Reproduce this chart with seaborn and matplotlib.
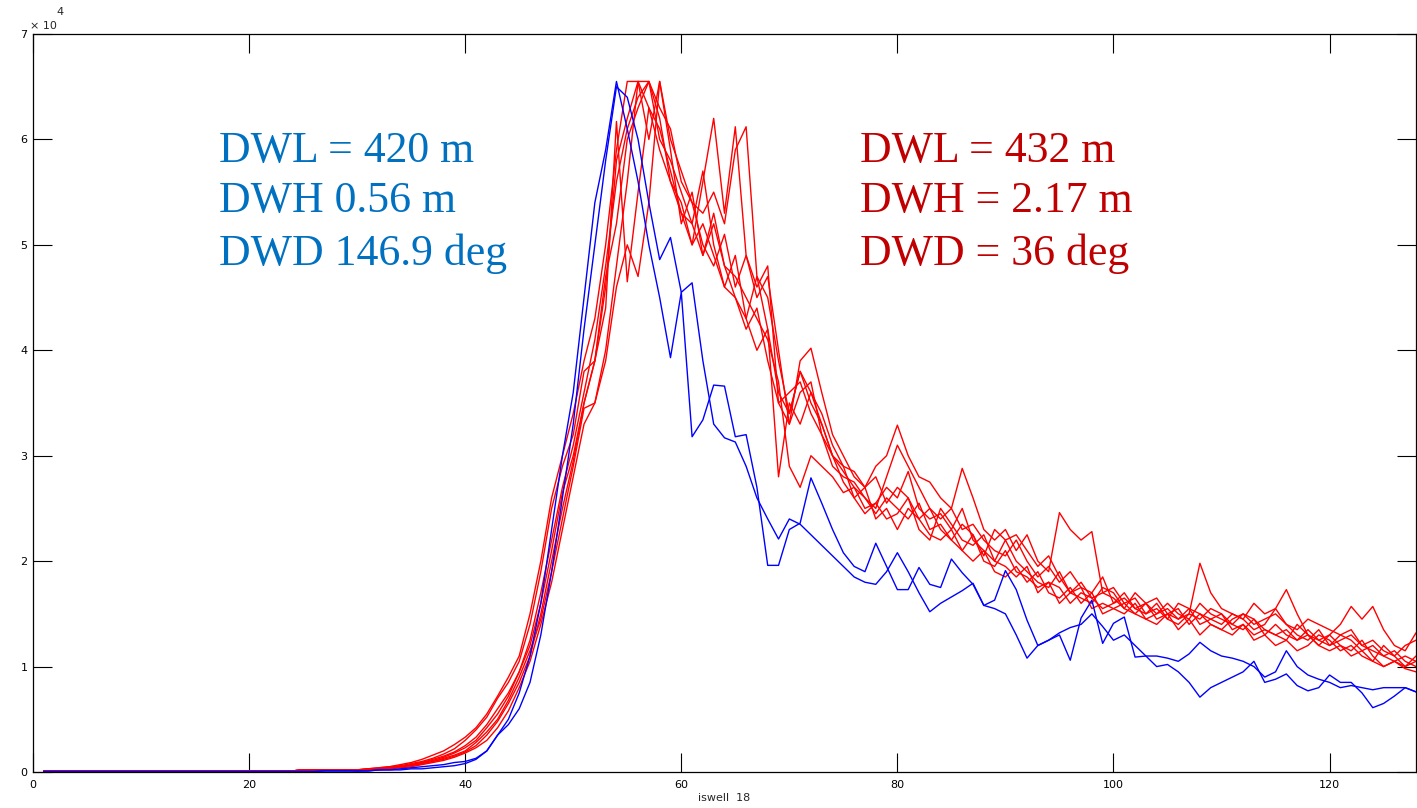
import numpy as np
import pandas as pd
import seaborn as sns
import matplotlib.pyplot as plt

# values are in units of 1e4 (axis shows "x 10^4")
red_low = [0.01, 0.01, 0.01, 0.01, 0.01, 0.01, 0.01, 0.01, 0.01, 0.01,
           0.01, 0.01, 0.01, 0.01, 0.01, 0.01, 0.01, 0.01, 0.01, 0.01,
           0.01, 0.01, 0.01, 0.01, 0.02, 0.02, 0.02, 0.02, 0.02]
blue_low = [0.005, 0.005, 0.005, 0.005, 0.005, 0.005, 0.005, 0.005, 0.005, 0.005,
            0.005, 0.005, 0.005, 0.005, 0.005, 0.005, 0.005, 0.005, 0.005, 0.005,
            0.005, 0.005, 0.005, 0.005, 0.005, 0.005, 0.01, 0.01, 0.01]

blue_a = [0.01, 0.01, 0.02, 0.02, 0.03, 0.04, 0.05, 0.06, 0.07, 0.09,
          0.10, 0.13, 0.20, 0.35, 0.50, 0.75, 1.10, 1.60, 2.30, 3.00,
          3.60, 4.50, 5.40, 5.90, 6.55, 6.10, 5.60, 5.00, 4.50, 3.93,
          4.55, 3.18, 3.34, 3.67, 3.66, 3.18, 3.20, 2.70, 1.96, 1.96,
          2.30, 2.36, 2.79, 2.55, 2.30, 2.08, 1.95, 1.90, 2.17, 1.95,
          1.73, 1.73, 1.94, 1.78, 1.75, 2.02, 1.89, 1.78, 1.58, 1.63,
          1.91, 1.73, 1.44, 1.20, 1.25, 1.30, 1.06, 1.46, 1.63, 1.22,
          1.41, 1.47, 1.09, 1.10, 1.00, 1.02, 0.95, 0.85, 0.71, 0.80,
          0.85, 0.90, 0.95, 1.05, 0.85, 0.88, 0.93, 0.82, 0.77, 0.80,
          0.92, 0.85, 0.85, 0.75, 0.61, 0.65, 0.72, 0.80, 0.76]
blue_b = [0.01, 0.01, 0.02, 0.02, 0.02, 0.03, 0.03, 0.04, 0.05, 0.06,
          0.08, 0.12, 0.20, 0.35, 0.45, 0.60, 0.85, 1.30, 1.90, 2.60,
          3.30, 4.20, 5.00, 5.80, 6.50, 6.40, 6.00, 5.40, 4.86, 5.07,
          4.55, 4.64, 3.90, 3.30, 3.17, 3.13, 2.90, 2.60, 2.40, 2.21,
          2.40, 2.35, 2.25, 2.15, 2.05, 1.95, 1.85, 1.80, 1.78, 1.90,
          2.08, 1.90, 1.70, 1.52, 1.60, 1.66, 1.72, 1.79, 1.58, 1.55,
          1.50, 1.30, 1.08, 1.20, 1.25, 1.32, 1.37, 1.40, 1.50, 1.38,
          1.25, 1.30, 1.20, 1.10, 1.10, 1.08, 1.05, 1.12, 1.23, 1.15,
          1.10, 1.08, 1.05, 1.00, 0.90, 0.95, 1.15, 1.00, 0.92, 0.88,
          0.85, 0.80, 0.82, 0.80, 0.78, 0.80, 0.80, 0.80, 0.76]

red_1 = [0.02, 0.03, 0.03, 0.04, 0.05, 0.07, 0.09, 0.12, 0.15, 0.19,
         0.25, 0.33, 0.45, 0.60, 0.75, 0.95, 1.20, 1.60, 2.10, 2.65,
         3.00, 3.50, 3.90, 4.60, 5.80, 6.20, 6.55, 6.55, 6.20, 5.60,
         5.40, 5.00, 5.60, 6.20, 5.30, 6.12, 4.90, 4.60, 4.80, 3.50,
         3.30, 3.90, 4.02, 3.60, 3.20, 3.00, 2.80, 2.70, 2.90, 3.00,
         3.29, 3.00, 2.80, 2.75, 2.60, 2.50, 2.88, 2.60, 2.30, 2.20,
         2.30, 2.10, 2.25, 2.00, 1.90, 2.46, 2.30, 2.20, 2.28, 1.70,
         1.65, 1.55, 1.70, 1.60, 1.50, 1.55, 1.45, 1.50, 1.98, 1.70,
         1.55, 1.50, 1.45, 1.60, 1.50, 1.55, 1.73, 1.50, 1.30, 1.25,
         1.30, 1.40, 1.57, 1.45, 1.57, 1.35, 1.20, 1.15, 1.32]
red_2 = [0.02, 0.02, 0.03, 0.04, 0.05, 0.06, 0.08, 0.10, 0.13, 0.16,
         0.20, 0.28, 0.38, 0.50, 0.68, 0.90, 1.15, 1.45, 1.90, 2.40,
         2.90, 3.45, 3.50, 4.00, 4.80, 5.60, 6.55, 6.00, 6.55, 5.90,
         5.20, 5.50, 4.90, 5.30, 4.80, 4.50, 4.30, 4.70, 4.20, 3.60,
         3.40, 3.80, 3.60, 3.30, 3.00, 2.85, 2.70, 2.60, 2.50, 2.80,
         3.10, 2.90, 2.70, 2.50, 2.40, 2.50, 2.30, 2.35, 2.20, 2.10,
         2.05, 2.20, 2.00, 1.85, 1.95, 1.80, 1.90, 1.75, 1.70, 1.85,
         1.60, 1.65, 1.55, 1.60, 1.45, 1.50, 1.55, 1.40, 1.50, 1.45,
         1.40, 1.50, 1.45, 1.35, 1.40, 1.55, 1.40, 1.30, 1.25, 1.35,
         1.20, 1.25, 1.30, 1.20, 1.15, 1.10, 1.05, 1.10, 1.05]
red_3 = [0.02, 0.03, 0.04, 0.05, 0.06, 0.08, 0.10, 0.13, 0.17, 0.22,
         0.30, 0.40, 0.52, 0.70, 0.85, 1.05, 1.40, 1.90, 2.50, 2.90,
         3.20, 3.80, 3.90, 4.70, 5.20, 6.00, 6.30, 6.55, 6.00, 5.80,
         5.50, 5.20, 5.70, 5.00, 4.60, 4.90, 4.30, 4.00, 4.20, 2.80,
         3.50, 3.30, 3.60, 3.40, 3.10, 2.90, 2.60, 2.45, 2.55, 2.70,
         2.60, 2.85, 2.50, 2.40, 2.45, 2.30, 2.50, 2.20, 2.10, 2.00,
         2.20, 2.00, 1.90, 1.80, 1.75, 1.90, 1.70, 1.65, 1.60, 1.75,
         1.70, 1.55, 1.50, 1.60, 1.65, 1.50, 1.45, 1.55, 1.40, 1.45,
         1.50, 1.35, 1.40, 1.30, 1.35, 1.30, 1.25, 1.40, 1.30, 1.20,
         1.30, 1.20, 1.15, 1.25, 1.10, 1.00, 1.05, 1.00, 1.10]
red_4 = [0.01, 0.02, 0.03, 0.04, 0.05, 0.06, 0.08, 0.10, 0.12, 0.15,
         0.19, 0.25, 0.35, 0.48, 0.65, 0.85, 1.10, 1.50, 2.00, 2.50,
         2.95, 3.50, 3.90, 4.40, 6.17, 4.65, 5.50, 6.30, 6.10, 5.70,
         5.30, 5.00, 5.20, 4.90, 4.60, 4.50, 4.20, 4.40, 3.90, 3.50,
         3.60, 3.70, 3.40, 3.20, 2.90, 2.80, 2.75, 2.60, 2.45, 2.60,
         2.50, 2.40, 2.55, 2.30, 2.35, 2.20, 2.10, 2.25, 2.00, 1.95,
         2.10, 1.90, 1.85, 1.75, 1.80, 1.60, 1.70, 1.75, 1.55, 1.60,
         1.55, 1.60, 1.50, 1.45, 1.50, 1.60, 1.50, 1.45, 1.60, 1.50,
         1.45, 1.40, 1.50, 1.45, 1.35, 1.30, 1.35, 1.25, 1.30, 1.20,
         1.15, 1.20, 1.10, 1.15, 1.05, 1.00, 1.05, 0.98, 0.95]
red_5 = [0.02, 0.02, 0.03, 0.04, 0.05, 0.07, 0.09, 0.11, 0.14, 0.18,
         0.23, 0.30, 0.42, 0.55, 0.72, 0.95, 1.25, 1.70, 2.20, 2.70,
         3.10, 3.60, 4.10, 4.80, 5.60, 6.10, 6.40, 6.55, 6.30, 6.10,
         5.60, 5.40, 5.30, 5.50, 5.20, 5.90, 6.12, 4.70, 4.50, 3.90,
         3.40, 3.80, 3.50, 3.30, 3.00, 2.90, 2.85, 2.70, 2.80, 2.55,
         2.70, 2.60, 2.40, 2.50, 2.30, 2.20, 2.35, 2.25, 2.05, 2.30,
         2.20, 2.25, 2.10, 1.95, 2.05, 1.85, 1.70, 1.80, 1.65, 1.70,
         1.75, 1.60, 1.65, 1.50, 1.55, 1.45, 1.60, 1.55, 1.50, 1.40,
         1.35, 1.45, 1.50, 1.40, 1.45, 1.50, 1.40, 1.35, 1.45, 1.40,
         1.35, 1.30, 1.35, 1.20, 1.25, 1.15, 1.10, 1.20, 1.25]
red_6 = [0.02, 0.03, 0.04, 0.05, 0.07, 0.09, 0.12, 0.16, 0.20, 0.26,
         0.33, 0.42, 0.55, 0.72, 0.90, 1.10, 1.50, 2.00, 2.60, 3.00,
         3.40, 3.90, 4.30, 5.00, 5.90, 6.55, 6.55, 6.30, 5.90, 5.60,
         5.30, 5.20, 4.90, 5.20, 4.80, 4.70, 4.50, 4.30, 4.10, 3.70,
         2.90, 2.70, 3.00, 2.90, 2.80, 2.65, 2.70, 2.50, 2.55, 2.40,
         2.45, 2.60, 2.30, 2.20, 2.50, 2.35, 2.20, 2.15, 2.25, 2.00,
         1.95, 1.85, 1.95, 1.70, 1.80, 1.75, 1.60, 1.70, 1.65, 1.55,
         1.60, 1.70, 1.55, 1.50, 1.60, 1.45, 1.40, 1.50, 1.45, 1.55,
         1.50, 1.40, 1.35, 1.45, 1.30, 1.40, 1.30, 1.25, 1.35, 1.25,
         1.20, 1.30, 1.25, 1.15, 1.20, 1.10, 1.15, 1.05, 1.00]
red_7 = [0.01, 0.02, 0.02, 0.03, 0.04, 0.05, 0.07, 0.09, 0.11, 0.14,
         0.18, 0.23, 0.30, 0.42, 0.58, 0.80, 1.05, 1.40, 1.80, 2.30,
         2.80, 3.30, 3.50, 3.90, 4.60, 5.00, 4.70, 5.40, 6.55, 6.00,
         5.70, 5.40, 5.00, 4.80, 5.10, 4.60, 4.90, 4.50, 4.70, 4.00,
         3.30, 3.60, 3.70, 3.20, 3.00, 2.75, 2.60, 2.70, 2.40, 2.50,
         2.30, 2.50, 2.40, 2.25, 2.20, 2.30, 2.10, 2.00, 2.10, 1.90,
         1.85, 1.95, 1.80, 1.90, 1.70, 1.65, 1.75, 1.60, 1.70, 1.50,
         1.55, 1.50, 1.60, 1.45, 1.40, 1.50, 1.35, 1.45, 1.30, 1.40,
         1.35, 1.30, 1.40, 1.25, 1.30, 1.20, 1.25, 1.15, 1.20, 1.30,
         1.25, 1.15, 1.20, 1.10, 1.05, 1.20, 1.10, 1.00, 1.05]

blue_runs = {'b1': blue_a, 'b2': blue_b}
red_runs = {'r1': red_1, 'r2': red_2, 'r3': red_3, 'r4': red_4,
            'r5': red_5, 'r6': red_6, 'r7': red_7}

blue_text = ['DWL = 420 m', 'DWH 0.56 m', 'DWD 146.9 deg']
red_text = ['DWL = 432 m', 'DWH = 2.17 m', 'DWD = 36 deg']

x_idx = np.arange(1, 129)
rows = []
for name, vals in red_runs.items():
    for xi, v in zip(x_idx, red_low + vals):
        rows.append((xi, v, name, 'red'))
for name, vals in blue_runs.items():
    for xi, v in zip(x_idx, blue_low + vals):
        rows.append((xi, v, name, 'blue'))
df = pd.DataFrame(rows, columns=['x', 'y', 'run', 'group'])

sns.set_theme(style='white')
plt.rcParams['font.family'] = ['DejaVu Sans']

fig = plt.figure(figsize=(14.17, 8.08), dpi=100)
ax = fig.add_axes([33 / 1417, 36 / 808, 1383 / 1417, 738 / 808])

sns.lineplot(data=df, x='x', y='y', hue='group', units='run', estimator=None,
             palette={'red': '#ff0000', 'blue': '#0000ff'}, legend=False,
             linewidth=1.0, ax=ax)

ax.set_xlim(0, 128)
ax.set_ylim(0, 7)
ax.set_xticks(range(0, 121, 20))
ax.set_yticks(range(0, 8))
ax.tick_params(direction='in', length=14, width=0.8, labelsize=8,
               top=True, right=True, bottom=True, left=True, colors='black')
ax.tick_params(axis='x', pad=6)
ax.tick_params(axis='y', pad=4)
for sp in ax.spines.values():
    sp.set_color('black')
    sp.set_linewidth(0.9)
ax.set_xlabel('iswell  18', fontsize=8, labelpad=2)
ax.set_ylabel('')

fig.text(30 / 1417, 1 - 26 / 808, '× 10', fontsize=8, ha='left', va='center')
fig.text(56 / 1417, 1 - 12 / 808, '4', fontsize=8, ha='left', va='center')

# annotation blocks, baselines
baselines = [0.8266, 0.7588, 0.687]
for t, yb in zip(blue_text, baselines):
    ax.text((219 - 33) / 1383, yb, t, transform=ax.transAxes,
            color='#0070c0', fontsize=31.5, family='Liberation Serif',
            ha='left', va='baseline')
for t, yb in zip(red_text, baselines):
    ax.text((860 - 33) / 1383, yb, t, transform=ax.transAxes,
            color='#c00000', fontsize=31.5, family='Liberation Serif',
            ha='left', va='baseline')

fig.savefig('out.png', dpi=100, facecolor='white')
